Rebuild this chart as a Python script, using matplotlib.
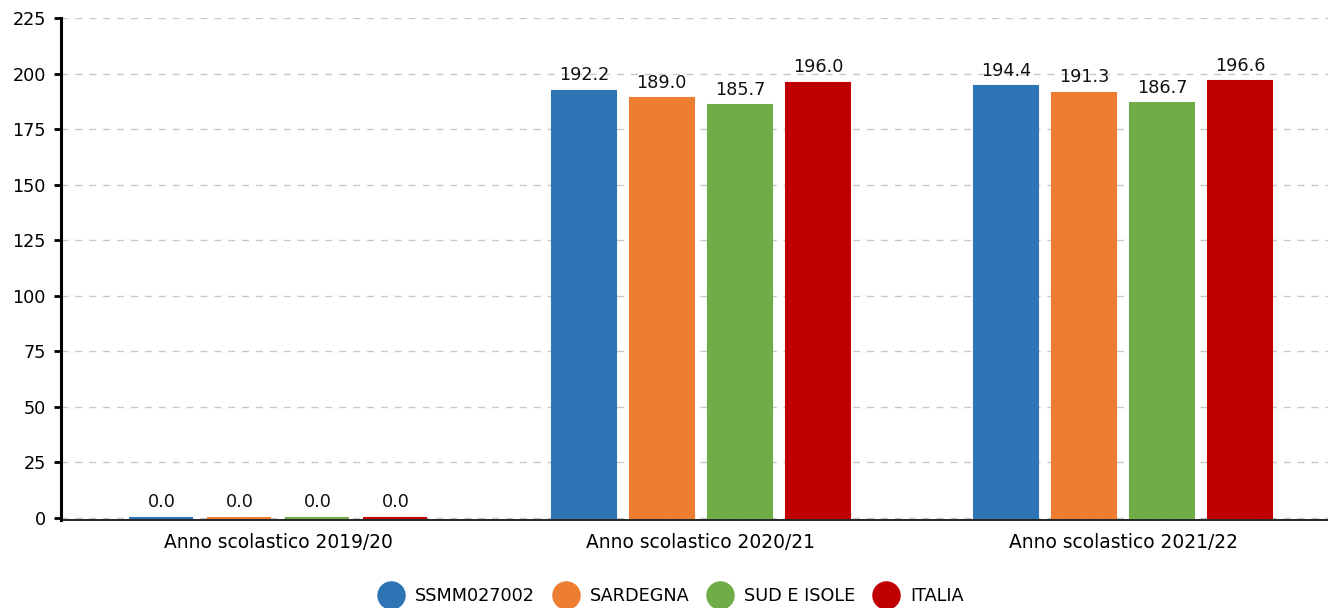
import matplotlib
matplotlib.use("Agg")
import matplotlib.pyplot as plt
import numpy as np
from matplotlib.lines import Line2D

categories = ["Anno scolastico 2019/20", "Anno scolastico 2020/21", "Anno scolastico 2021/22"]
series_names = ["SSMM027002", "SARDEGNA", "SUD E ISOLE", "ITALIA"]
ssmm = [0.0, 192.2, 194.4]
sardegna = [0.0, 189.0, 191.3]
sud = [0.0, 185.7, 186.7]
italia = [0.0, 196.0, 196.6]
colors = ["#2e75b6", "#ed7d31", "#70ad47", "#c00000"]
yticks = [0, 25, 50, 75, 100, 125, 150, 175, 200, 225]

plt.rcParams['font.family'] = ['DejaVu Sans']
fig = plt.figure(figsize=(13.28, 6.08), dpi=100)
ax = fig.add_axes([0.0459, 0.144, 0.9541, 0.826])

x = np.arange(len(categories))
width = 0.1516
step = 0.1847
data = [ssmm, sardegna, sud, italia]
for i, (vals, c) in enumerate(zip(data, colors)):
    pos = x + (i - 1.5) * step
    bars = ax.bar(pos, vals, width=width, color=c, edgecolor=c, linewidth=1.5, zorder=3)
    for b, v in zip(bars, vals):
        ax.text(b.get_x() + b.get_width() / 2, v + 3, f"{v:.1f}", ha="center", va="bottom",
                fontsize=12.7, color="#111111", zorder=4)

ax.set_xlim(-0.515, 2.485)
ax.set_ylim(-1.2, 225)
ax.set_yticks(yticks)
ax.set_xticks(x)
ax.set_xticklabels(categories, fontsize=13.4)
ax.tick_params(axis="x", length=0, pad=9)
ax.tick_params(axis="y", length=5, width=2, labelsize=12.7, pad=6)
ax.grid(axis="y", color="#c8c8c8", linestyle=(0, (5, 5)), linewidth=1, zorder=0)
for s in ["top", "right"]:
    ax.spines[s].set_visible(False)
ax.spines["left"].set_linewidth(2.2)
ax.spines["bottom"].set_linewidth(1.2)
ax.spines["left"].set_zorder(5)
ax.spines["bottom"].set_zorder(5)

handles = [Line2D([0], [0], marker="o", linestyle="", markersize=19.5, markerfacecolor=c,
                  markeredgecolor=c) for c in colors]
fig.legend(handles, series_names, loc="center", bbox_to_anchor=(0.505, 0.02), ncol=4,
           frameon=False, fontsize=12.7, handletextpad=0.6, columnspacing=1.0, handlelength=1.5)

fig.savefig("out.png", dpi=100)
